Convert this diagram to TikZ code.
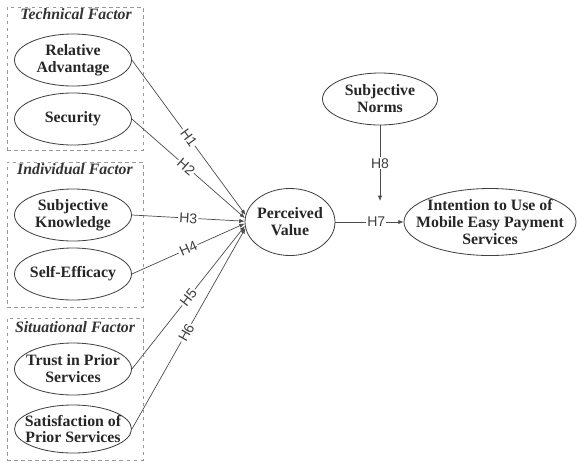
\documentclass[tikz,border=0pt]{standalone}
\usepackage{fontspec}
\setmainfont{Liberation Serif}
\newfontfamily\hypfont{Liberation Sans}
\usetikzlibrary{arrows.meta,shapes.geometric,fit}

\begin{document}
\begin{tikzpicture}[
  x=0.03cm, y=-0.03cm,
  construct/.style={draw=black!75, line width=0.7pt, ellipse, inner sep=-12pt, align=center,
    text=black!85, font=\bfseries\fontsize{13.5}{14.5}\selectfont,
    minimum width=3.51cm, minimum height=1.56cm},
  groupbox/.style={draw=black!40, dashed, line width=0.6pt, inner sep=0pt},
  grouplabel/.style={font=\bfseries\itshape\fontsize{13.5}{14.5}\selectfont, text=black!80},
  hyp/.style={fill=white, inner sep=1pt, sloped, font=\hypfont\fontsize{12}{13}\selectfont, text=black!75},
  path/.style={-{Latex[length=1.6mm,width=1.3mm]}, draw=black!70, line width=0.6pt},
]
\useasboundingbox (0,0) rectangle (577,462);

% -- Factor groups --
\node[groupbox, fit={(7,7) (143,150)}] (tech) {};
\node[grouplabel] (techlab) at (76,14) {Technical Factor};
\node[groupbox, fit={(7,162) (143,307)}] (indiv) {};
\node[grouplabel] (indivlab) at (75,169) {Individual Factor};
\node[groupbox, fit={(7,318) (143,460)}] (situ) {};
\node[grouplabel] (situlab) at (75,327) {Situational Factor};

% -- Antecedents --
\node[construct] (ra) at (73,60) {Relative\\Advantage};
\node[construct] (sec) at (73,119) {Security};
\node[construct] (sk) at (73,215) {Subjective\\Knowledge};
\node[construct] (se) at (73,274) {Self-Efficacy};
\node[construct] (tps) at (73,369) {Trust in Prior\\Services};
\node[construct, minimum height=1.44cm] (sps) at (73,429) {Satisfaction of\\Prior Services};

% -- Mediator, moderator, outcome --
\node[construct, minimum width=2.7cm, minimum height=2.01cm] (pv) at (290,222) {Perceived\\Value};
\node[construct, minimum width=3.45cm] (sn) at (380,99) {Subjective\\Norms};
\node[construct, minimum width=5.16cm, minimum height=2.01cm] (itu) at (490,222) {Intention to Use of\\Mobile Easy Payment\\Services};
\coordinate (mod) at (380,201);

% -- Paths --
\draw[path] (ra.east) -- node[hyp, pos=0.5] {H1} (pv.171);
\draw[path] (sec.east) -- node[hyp, pos=0.48] {H2} (pv.175);
\draw[path] (sk.east) -- node[hyp, pos=0.5] {H3} (pv.179);
\draw[path] (se.east) -- node[hyp, pos=0.5] {H4} (pv.182);
\draw[path] (tps.east) -- node[hyp, pos=0.5] {H5} (pv.185);
\draw[path] (sps.east) -- node[hyp, pos=0.48] {H6} (pv.188);
\draw[path] (pv.east) -- node[hyp, pos=0.6] {H7} (itu.west);
\draw[path] (sn.south) -- node[hyp, sloped=false] {H8} (mod);

\end{tikzpicture}
\end{document}
